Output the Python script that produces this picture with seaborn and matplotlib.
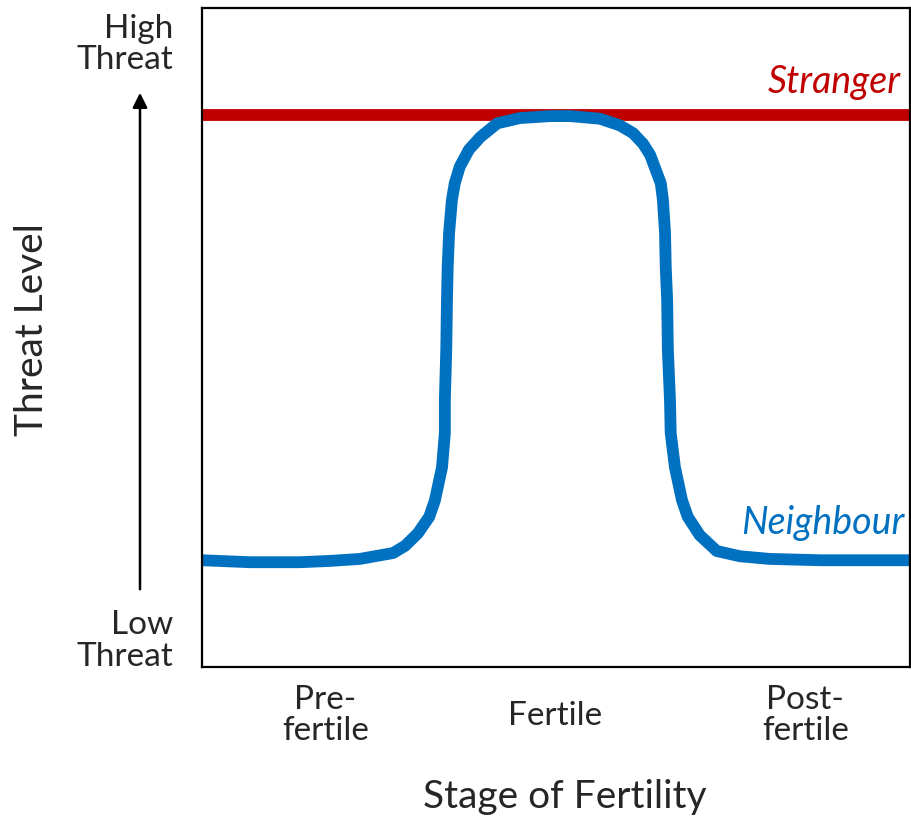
import numpy as np
import pandas as pd
import matplotlib
matplotlib.use("Agg")
import matplotlib.pyplot as plt
import seaborn as sns

# ============================================
# DATA
# ============================================

stage_x = [0, 6.8, 13.8, 18.1, 22.3, 27.0, 28.7, 30.5, 32.1, 32.9, 33.9, 34.3,
           34.3, 34.5, 34.6, 34.7, 34.9, 35.3, 35.7, 36.4, 37.7, 39.3, 41.7,
           44.9, 49.2, 52.0, 56.2, 59.0, 60.9, 62.3, 63.3, 64.8, 65.1, 65.4,
           65.5, 65.7, 65.8, 66.1, 66.2, 66.8, 67.8, 68.6, 70.3, 72.7, 76.0,
           80.2, 87.3, 100]
neighbour_threat = [16.2, 15.9, 15.9, 16.1, 16.4, 17.3, 18.4, 20.3, 22.8, 25.3,
                    30.3, 35.5, 40.5, 48.1, 55.7, 60.7, 65.9, 70.9, 73.4, 75.9,
                    78.5, 80.4, 82.5, 83.3, 83.6, 83.6, 83.2, 82.2, 81.0, 79.4,
                    77.7, 73.4, 70.9, 65.9, 60.7, 55.7, 48.1, 40.5, 35.5, 30.3,
                    25.3, 22.8, 20.0, 17.6, 16.8, 16.4, 16.2, 16.2]
stranger_threat = 83.8

stage_ticks = [17.4, 49.9, 85.2]
stage_labels = ["Pre-\nfertile", "Fertile", "Post-\nfertile"]
threat_ticks = [4.5, 95]
threat_labels = ["Low\nThreat", "High\nThreat"]

RED = "#C00000"
BLUE = "#0070C0"

# ============================================
# PLOT
# ============================================

sns.set_style("white")
plt.rcParams["font.family"] = ["Lato", "DejaVu Sans"]

fig = plt.figure(figsize=(9.12, 8.18), dpi=100)
ax = fig.add_axes([0.2215, 0.1846, 0.7763, 0.8056])

df = pd.DataFrame({"stage": stage_x, "threat": neighbour_threat})

ax.axhline(stranger_threat, color=RED, linewidth=8.5, zorder=1)
sns.lineplot(data=df, x="stage", y="threat", color=BLUE, linewidth=8.5,
             ax=ax, zorder=2, estimator=None, sort=False,
             solid_capstyle="butt", solid_joinstyle="round")

ax.set_xlim(0, 100)
ax.set_ylim(0, 100)

ax.set_xticks(stage_ticks)
ax.set_xticklabels(stage_labels, fontsize=24, linespacing=1.02)
ax.set_yticks(threat_ticks)
ax.set_yticklabels(threat_labels, fontsize=24, linespacing=1.05)
for lbl in ax.get_xticklabels():
    lbl.set_verticalalignment("center")
ax.tick_params(axis="both", length=0)
ax.tick_params(axis="x", pad=35)
ax.tick_params(axis="y", pad=21)

ax.set_xlabel("")
ax.set_ylabel("")
fig.text(565 / 912, 1 - 797 / 818, "Stage of Fertility", fontsize=28,
         ha="center", va="center")

for spine in ax.spines.values():
    spine.set_visible(True)
    spine.set_color("black")
    spine.set_linewidth(1.6)

ax.text(98.7, 88.8, "Stranger", color=RED, fontsize=27, style="italic",
        ha="right", va="center")
ax.text(99.2, 21.9, "Neighbour", color=BLUE, fontsize=27, style="italic",
        ha="right", va="center")

# threat level arrow and label
fig.text(0.035, 0.597, "Threat Level", rotation=90, fontsize=28,
         ha="center", va="center")
ax.annotate("", xy=(140 / 912, 1 - 90 / 818), xytext=(140 / 912, 1 - 592 / 818),
            xycoords="figure fraction", textcoords="figure fraction",
            arrowprops=dict(arrowstyle="-|>", color="black", lw=1.8,
                            mutation_scale=22))

fig.savefig("out.png", dpi=100)
